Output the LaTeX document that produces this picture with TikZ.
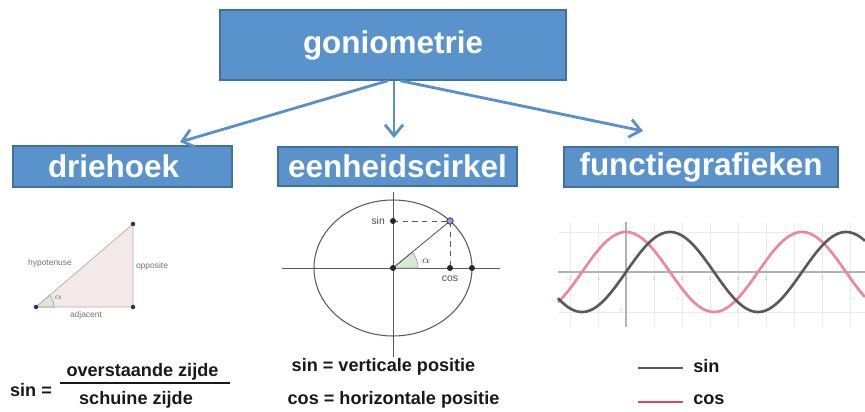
\documentclass[tikz,border=0pt]{standalone}
\usepackage{fontspec}
\setmainfont{Liberation Sans}
\usetikzlibrary{arrows.meta,calc}
\definecolor{kop}{HTML}{5A93CC}
\definecolor{rand}{HTML}{41719C}
\definecolor{lijn}{HTML}{5B8FC8}
\definecolor{grafit}{HTML}{595959}
\definecolor{rose}{HTML}{EC8798}
\definecolor{rood}{HTML}{E0485A}
\definecolor{driefill}{HTML}{F4E9E9}
\definecolor{drierand}{HTML}{B9ABA6}
\definecolor{hoekgroen}{HTML}{D6EAD2}
\definecolor{groen}{HTML}{86BC84}
\definecolor{navy}{HTML}{26306A}
\definecolor{paars}{HTML}{9C92D6}
\tikzset{
  hdr/.style={draw=rand,fill=kop,line width=0.8pt,inner sep=0pt,text=white,
              font=\fontsize{17.9}{20}\selectfont\bfseries},
  conn/.style={-{Straight Barb[length=2.2mm,width=3.6mm]},line width=1.6pt,draw=lijn},
  mini/.style={font=\fontsize{4.8}{5}\selectfont,text=black!55,inner sep=0.5pt},
  small/.style={font=\fontsize{5.9}{6}\selectfont,text=black!70,inner sep=0.5pt},
  note/.style={font=\fontsize{10.3}{12}\selectfont\bfseries,text=black!90,inner sep=0pt},
  ax/.style={draw=grafit,line width=0.5pt},
  rooster/.style={draw=black!8,line width=0.4pt},
  dot/.style={fill=#1},
  dot/.default=black!85,
}

\begin{document}
\begin{tikzpicture}
  \useasboundingbox (0,0) rectangle (17.3,-8.24);
  % kopjes
  \node[hdr,minimum width=6.92cm,minimum height=1.4cm]  (gonio)  at (7.86,-0.9)  {goniometrie};
  \node[hdr,inner xsep=0.7cm,text width=2.98cm,align=left,minimum height=0.82cm] (drie) at (2.45,-3.33) {driehoek};
  \node[hdr,minimum width=4.78cm,minimum height=0.78cm] (cirkel) at (7.95,-3.33) {eenheidscirkel};
  \node[hdr,minimum width=5.48cm,minimum height=0.8cm]  (graf)   at (14.02,-3.34) {functiegrafieken};
  \coordinate (pL) at (3.6,-2.84);
  \coordinate (pM) at (7.88,-2.76);
  \coordinate (pR) at (12.86,-2.62);
  \draw[conn] ([xshift=-0.1cm]gonio.south) -- (pL);
  \draw[conn] ([xshift=0.02cm]gonio.south) -- (pM);
  \draw[conn] ([xshift=0.14cm]gonio.south) -- (pR);

  % driehoek
  \coordinate (A) at (0.72,-6.14);
  \coordinate (B) at (2.66,-6.14);
  \coordinate (C) at (2.66,-4.48);
  \filldraw[fill=driefill,draw=drierand,line width=0.4pt] (A) -- (B) -- (C) -- cycle;
  \filldraw[fill=hoekgroen,draw=black!40,line width=0.3pt] (A) -- ++(0:0.36) arc (0:40.6:0.36) -- cycle;
  \foreach \p in {A,B,C}{ \fill[dot=navy] (\p) circle (0.045); }
  \node[mini] (hyp) at (1.0,-5.27) {hypotenuse};
  \node[mini] (opp) at (3.04,-5.33) {opposite};
  \node[mini] (adj) at (1.72,-6.3)  {adjacent};
  \node[mini] (alfa) at (1.17,-5.96) {$\alpha$};

  % eenheidscirkel
  \coordinate (O) at (7.86,-5.36);
  \coordinate (P) at (9.0,-4.42);
  \coordinate (S) at (7.86,-4.42);
  \coordinate (K) at (9.0,-5.36);
  \coordinate (E) at (9.44,-5.36);
  \draw[ax] (5.64,-5.36) -- (10.0,-5.36);
  \draw[ax] (7.86,-3.84) -- (7.86,-7.14);
  \draw[ax,line width=0.6pt] (O) ellipse (1.58 and 1.36);
  \filldraw[fill=hoekgroen,draw=groen,line width=0.4pt] (O) -- ++(0:0.5) arc (0:39.5:0.5) -- cycle;
  \draw[ax] (O) -- (P);
  \draw[ax,dashed,dash pattern=on 3pt off 2.5pt] (S) -- (P) -- (K);
  \foreach \p in {O,S,K,E}{ \fill[dot] (\p) circle (0.06); }
  \filldraw[fill=paars,draw=navy,line width=0.4pt] (P) circle (0.065);
  \node[small,anchor=east] (lsinp) at (7.72,-4.42) {sin};
  \node[small] (lcosp) at (9.0,-5.58) {cos};
  \node[small] (alfa2) at (8.52,-5.22) {$\alpha$};

  % grafieken
  \foreach \i in {-2,...,8}{ \draw[rooster] ({12.52+0.56*\i},-4.44) -- ({12.52+0.56*\i},-6.54); }
  \foreach \y in {-4.64,-6.24}{ \draw[rooster] (11.16,\y) -- (17.3,\y); }
  \draw[draw=black!30,line width=0.6pt] (11.16,-5.44) -- (17.3,-5.44);
  \draw[draw=black!30,line width=0.6pt] (12.52,-4.44) -- (12.52,-6.54);
  \foreach \i in {-2,-1,1,2,3,4,5,7,8}{
    \node[font=\fontsize{3}{3}\selectfont,text=black!25,inner sep=0.5pt] at ({12.52+0.56*\i},-5.58) {\i};
  }
  \node[font=\fontsize{3}{3}\selectfont,text=black!25,inner sep=0.5pt] at (12.42,-6.2) {-1};
  \draw[rose,line width=1.5pt,domain=11.16:17.3,samples=150,smooth]
    plot (\x,{-5.44+0.8*cos(360*(\x-12.52)/3.52)});
  \draw[grafit,line width=1.5pt,domain=11.16:17.3,samples=150,smooth]
    plot (\x,{-5.44+0.8*sin(360*(\x-12.52)/3.52)});

  % legenda
  \node[note,anchor=west] (lsin) at (13.86,-7.32) {sin};
  \node[note,anchor=west] (lcos) at (13.86,-8.0)  {cos};
  \draw[grafit,line width=0.9pt] ([xshift=-0.2cm,yshift=-0.04cm]lsin.west) -- ++(-0.9,0);
  \draw[rood,line width=0.6pt]   ([xshift=-0.2cm,yshift=-0.04cm]lcos.west) -- ++(-0.9,0);

  % formules
  \node[note] (sinis)  at (0.62,-7.8)  {sin =};
  \node[note] (teller) at (2.85,-7.44) {overstaande zijde};
  \node[note] (noemer) at (2.72,-8.0)  {schuine zijde};
  \draw[line width=1.4pt,black!90] (1.2,-7.66) -- (4.6,-7.66);
  \node[note] (vert) at (7.67,-7.34) {sin = verticale positie};
  \node[note] (hor)  at (7.87,-8.0)  {cos = horizontale positie};
\end{tikzpicture}
\end{document}
